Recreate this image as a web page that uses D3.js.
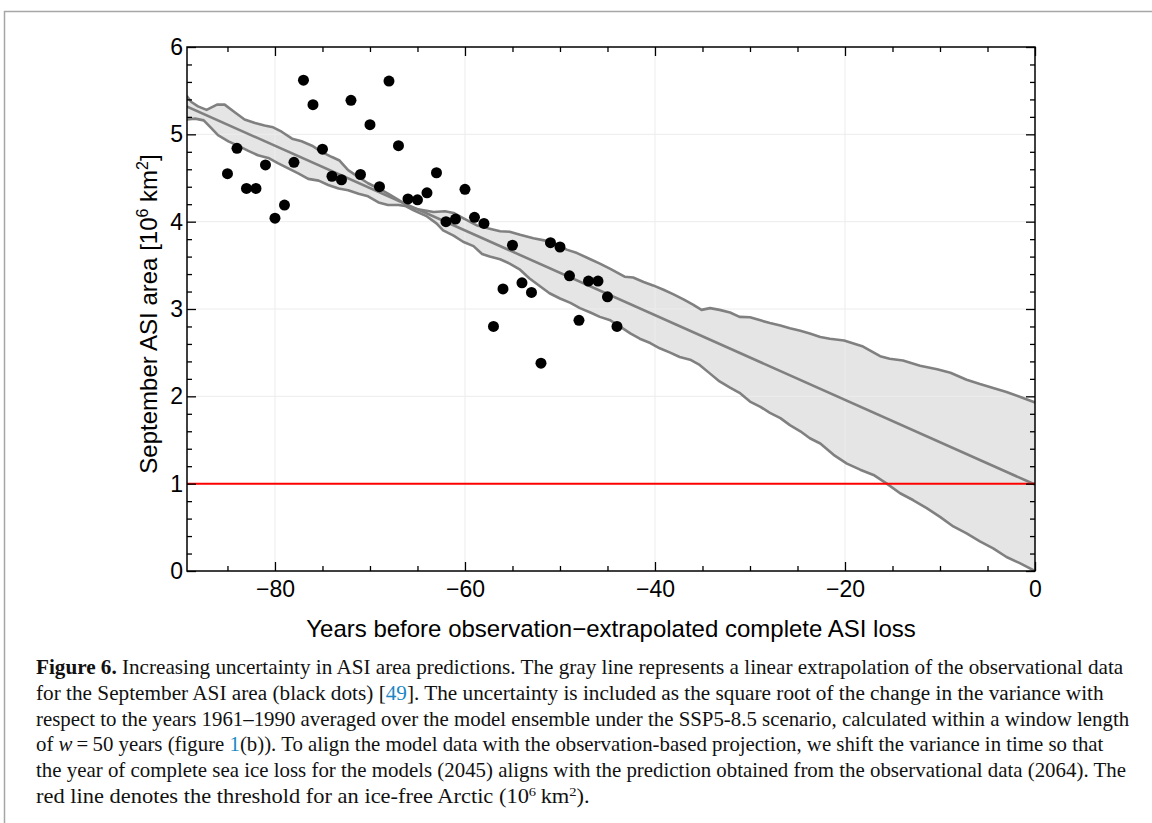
<!DOCTYPE html>
<html>
<head>
<meta charset="utf-8">
<script src="https://cdn.jsdelivr.net/npm/d3@7"></script>
<style>
  body { margin: 0; background: #fff; }
  svg { display: block; }
  .tick text { font-family: "Liberation Sans", Arial, sans-serif; font-size: 23px; fill: #000; }
</style>
</head>
<body>
<svg id="chart" width="1152" height="823"></svg>
<script>
// observations: years before extrapolated loss, September ASI area (10^6 km^2)
const obsYears = [-85, -84, -83, -82, -81, -80, -79, -78, -77, -76, -75, -74, -73, -72,
  -71, -70, -69, -68, -67, -66, -65, -64, -63, -62, -61, -60, -59, -58,
  -57, -56, -55, -54, -53, -52, -51, -50, -49, -48, -47, -46, -45, -44];
const obsArea = [4.55, 4.84, 4.38, 4.38, 4.65, 4.04, 4.19, 4.68, 5.62, 5.34, 4.83, 4.52, 4.48, 5.39,
  4.54, 5.11, 4.40, 5.61, 4.87, 4.26, 4.25, 4.33, 4.56, 4.00, 4.03, 4.37, 4.05, 3.98,
  2.80, 3.23, 3.73, 3.30, 3.19, 2.38, 3.76, 3.71, 3.38, 2.87, 3.32, 3.32, 3.14, 2.80];

// linear extrapolation (end points)
const fitLine = [[-89.3, 5.32], [0, 0.99]];

// uncertainty band edges [years, area]
const bandUpper = [[-89.3, 5.44], [-88.8, 5.37], [-88.1, 5.32], [-87.2, 5.28], [-86.1, 5.34], [-85.3, 5.34],
  [-84.2, 5.25], [-83.2, 5.17], [-82.1, 5.13], [-81.1, 5.10], [-80.2, 5.08], [-79.3, 5.03], [-78.2, 4.95],
  [-77.2, 4.92], [-76.1, 4.87], [-75.1, 4.80], [-74.0, 4.74], [-73.2, 4.70], [-72.3, 4.59], [-71.2, 4.51],
  [-70.2, 4.44], [-69.1, 4.38], [-68.1, 4.32], [-67.0, 4.25], [-66.3, 4.20], [-65.4, 4.15], [-63.3, 4.11],
  [-62.1, 4.12], [-61.2, 4.10], [-60.2, 4.04], [-58.8, 3.96], [-57.4, 3.92], [-56.3, 3.89], [-55.3, 3.885],
  [-54.2, 3.85], [-52.8, 3.81], [-51.4, 3.78], [-50.3, 3.74], [-49.3, 3.68], [-48.2, 3.64], [-46.8, 3.57],
  [-45.8, 3.52], [-44.7, 3.46], [-43.2, 3.37], [-42.3, 3.36], [-41.2, 3.31], [-40.2, 3.27], [-39.1, 3.22],
  [-38.1, 3.17], [-37.0, 3.11], [-36.0, 3.05], [-35.1, 2.99], [-34.2, 3.01], [-33.2, 2.99], [-32.1, 2.96],
  [-31.1, 2.91], [-30.0, 2.905], [-28.9, 2.87], [-27.9, 2.84], [-26.8, 2.81], [-25.8, 2.78], [-24.7, 2.75],
  [-23.7, 2.72], [-22.6, 2.68], [-21.6, 2.66], [-20.1, 2.64], [-18.1, 2.57], [-16.3, 2.46], [-15.3, 2.43],
  [-13.9, 2.41], [-12.1, 2.35], [-10.3, 2.31], [-8.9, 2.27], [-7.2, 2.19], [-5.8, 2.14], [-3.0, 2.05], [0, 1.93]];
const bandLower = [[-89.3, 5.17], [-88.4, 5.18], [-87.5, 5.16], [-86.7, 5.07], [-86.0, 4.99], [-84.9, 4.92],
  [-83.9, 4.87], [-82.8, 4.81], [-81.8, 4.76], [-80.7, 4.73], [-79.7, 4.67], [-78.6, 4.61], [-77.5, 4.55],
  [-76.5, 4.49], [-75.4, 4.47], [-74.4, 4.42], [-73.3, 4.38], [-72.3, 4.36], [-71.2, 4.32], [-70.2, 4.29],
  [-69.1, 4.22], [-68.1, 4.19], [-67.0, 4.19], [-66.3, 4.18], [-65.4, 4.13], [-64.0, 4.06], [-63.0, 3.98],
  [-62.3, 3.90], [-61.2, 3.84], [-60.2, 3.77], [-59.1, 3.72], [-58.2, 3.63], [-57.4, 3.60], [-56.3, 3.57],
  [-55.3, 3.52], [-54.2, 3.45], [-53.2, 3.35], [-52.1, 3.26], [-51.1, 3.18], [-50.0, 3.12], [-48.9, 3.07],
  [-47.9, 3.01], [-46.8, 2.96], [-45.8, 2.91], [-44.7, 2.87], [-43.7, 2.80], [-42.6, 2.72], [-41.6, 2.66],
  [-40.5, 2.61], [-39.5, 2.55], [-38.4, 2.50], [-37.4, 2.45], [-36.3, 2.42], [-35.3, 2.36], [-34.2, 2.26],
  [-33.2, 2.17], [-32.1, 2.10], [-31.1, 2.04], [-30.0, 1.94], [-28.9, 1.88], [-27.9, 1.81], [-26.8, 1.75],
  [-25.8, 1.67], [-24.7, 1.60], [-23.7, 1.52], [-22.6, 1.46], [-21.2, 1.33], [-19.8, 1.23], [-18.4, 1.16],
  [-17.0, 1.10], [-15.6, 1.00], [-14.2, 0.89], [-12.8, 0.81], [-11.4, 0.72], [-10.0, 0.62], [-8.6, 0.51],
  [-7.2, 0.43], [-5.8, 0.34], [-4.4, 0.26], [-3.0, 0.16], [-1.6, 0.09], [0, 0.00]];

const iceFreeThreshold = 1;

const xTicks = [-80, -60, -40, -20, 0];
const xMinorTicks = [-85, -75, -70, -65, -55, -50, -45, -35, -30, -25, -15, -10, -5];
const yTicks = [0, 1, 2, 3, 4, 5, 6];
const yMinorTicks = [0.2, 0.4, 0.6, 0.8, 1.2, 1.4, 1.6, 1.8, 2.2, 2.4, 2.6, 2.8, 3.2, 3.4, 3.6, 3.8,
  4.2, 4.4, 4.6, 4.8, 5.2, 5.4, 5.6, 5.8];

const svg = d3.select("#chart");
const pLeft = 187, pRight = 1035, pTop = 47, pBottom = 571;

const x = d3.scaleLinear().domain([-89.26, 0]).range([pLeft, pRight]);
const y = d3.scaleLinear().domain([0, 6]).range([pBottom, pTop]);

// page frame
svg.append("path")
   .attr("d", "M4.5,823 V11.5 H1152")
   .attr("fill", "none")
   .attr("stroke", "#a6a6a6")
   .attr("stroke-width", 1.5);

svg.append("clipPath").attr("id", "plotclip")
   .append("rect").attr("x", pLeft).attr("y", pTop).attr("width", pRight - pLeft).attr("height", pBottom - pTop);

const plot = svg.append("g").attr("clip-path", "url(#plotclip)");

const line = d3.line().x(d => x(d[0])).y(d => y(d[1]));

// band fill
const bandArea = bandUpper.concat(bandLower.slice().reverse());
plot.append("path")
    .attr("d", line(bandArea) + "Z")
    .attr("fill", "#e5e5e5");

// grid
plot.append("g").selectAll("line").data(xTicks.filter(v => v !== 0)).join("line")
    .attr("x1", d => x(d)).attr("x2", d => x(d)).attr("y1", pTop).attr("y2", pBottom)
    .attr("stroke", "#ececec").attr("stroke-width", 1);
plot.append("g").selectAll("line").data(yTicks.filter(v => v !== 0 && v !== 6)).join("line")
    .attr("y1", d => y(d)).attr("y2", d => y(d)).attr("x1", pLeft).attr("x2", pRight)
    .attr("stroke", "#ececec").attr("stroke-width", 1);

[bandUpper, bandLower, fitLine].forEach(pts => {
  plot.append("path")
      .attr("d", line(pts))
      .attr("fill", "none")
      .attr("stroke", "#808080")
      .attr("stroke-width", 2.6)
      .attr("stroke-linejoin", "round");
});

// ice-free threshold
plot.append("line")
    .attr("x1", pLeft).attr("x2", pRight)
    .attr("y1", y(iceFreeThreshold)).attr("y2", y(iceFreeThreshold))
    .attr("stroke", "#ff0000").attr("stroke-width", 2);

// observations
plot.append("g").selectAll("circle").data(obsYears).join("circle")
    .attr("cx", d => x(d))
    .attr("cy", (d, i) => y(obsArea[i]))
    .attr("r", 5.5)
    .attr("fill", "#000");

// axes (inward ticks on all four sides)
function styleAxis(g) {
  g.select(".domain").remove();
  g.selectAll(".tick line").attr("stroke", "#000").attr("stroke-width", 1.3);
}
svg.append("g").attr("transform", `translate(0,${pBottom})`)
   .call(d3.axisBottom(x).tickValues(xTicks).tickSize(-9).tickPadding(10).tickFormat(d3.format("d")))
   .call(styleAxis);
svg.append("g").attr("transform", `translate(0,${pBottom})`)
   .call(d3.axisBottom(x).tickValues(xMinorTicks).tickSize(-5).tickFormat(""))
   .call(styleAxis);
svg.append("g").attr("transform", `translate(0,${pTop})`)
   .call(d3.axisTop(x).tickValues(xTicks).tickSize(-9).tickFormat(""))
   .call(styleAxis);
svg.append("g").attr("transform", `translate(0,${pTop})`)
   .call(d3.axisTop(x).tickValues(xMinorTicks).tickSize(-5).tickFormat(""))
   .call(styleAxis);
svg.append("g").attr("transform", `translate(${pLeft},0)`)
   .call(d3.axisLeft(y).tickValues(yTicks).tickSize(-9).tickPadding(4).tickFormat(d3.format("d")))
   .call(styleAxis);
svg.append("g").attr("transform", `translate(${pLeft},0)`)
   .call(d3.axisLeft(y).tickValues(yMinorTicks).tickSize(-5).tickFormat(""))
   .call(styleAxis);
svg.append("g").attr("transform", `translate(${pRight},0)`)
   .call(d3.axisRight(y).tickValues(yTicks).tickSize(-9).tickFormat(""))
   .call(styleAxis);
svg.append("g").attr("transform", `translate(${pRight},0)`)
   .call(d3.axisRight(y).tickValues(yMinorTicks).tickSize(-5).tickFormat(""))
   .call(styleAxis);

svg.append("rect")
   .attr("x", pLeft).attr("y", pTop).attr("width", pRight - pLeft).attr("height", pBottom - pTop)
   .attr("fill", "none").attr("stroke", "#000").attr("stroke-width", 1.5);

// axis titles
svg.append("text")
   .attr("x", (pLeft + pRight) / 2).attr("y", 637)
   .attr("text-anchor", "middle")
   .style("font-family", '"Liberation Sans", Arial, sans-serif')
   .style("font-size", "24px")
   .text("Years before observation\u2212extrapolated complete ASI loss");

const yTitle = svg.append("text")
   .attr("transform", "translate(157,314) rotate(-90)")
   .attr("text-anchor", "middle")
   .style("font-family", '"Liberation Sans", Arial, sans-serif')
   .style("font-size", "24px");
yTitle.append("tspan").text("September ASI area [10");
yTitle.append("tspan").attr("dy", -9).style("font-size", "16px").text("6");
yTitle.append("tspan").attr("dy", 9).text(" km");
yTitle.append("tspan").attr("dy", -9).style("font-size", "16px").text("2");
yTitle.append("tspan").attr("dy", 9).text("]");

// caption
const blue = "#1b87c4";
const captionLines = [
  { end: 1124, parts: [{ t: "Figure 6.", b: true }, { t: " Increasing uncertainty in ASI area predictions. The gray line represents a linear extrapolation of the observational data" }] },
  { end: 1104, parts: [{ t: "for the September ASI area (black dots) [" }, { t: "49", c: blue }, { t: "]. The uncertainty is included as the square root of the change in the variance with" }] },
  { end: 1130, parts: [{ t: "respect to the years 1961\u20131990 averaged over the model ensemble under the SSP5-8.5 scenario, calculated within a window length" }] },
  { end: 1104, parts: [{ t: "of " }, { t: "w", i: true }, { t: "\u2009=\u200950 years (figure " }, { t: "1", c: blue }, { t: "(b)). To align the model data with the observation-based projection, we shift the variance in time so that" }] },
  { end: 1127, parts: [{ t: "the year of complete sea ice loss for the models (2045) aligns with the prediction obtained from the observational data (2064). The" }] },
  { end: 590, parts: [{ t: "red line denotes the threshold for an ice-free Arctic (10" }, { t: "6", sup: true }, { t: "\u2009km" }, { t: "2", sup: true }, { t: ")." }] }
];

captionLines.forEach((ln, i) => {
  const baseY = 674 + i * 25.8;
  const txt = svg.append("text")
     .attr("x", 0).attr("y", 0)
     .style("font-family", '"Liberation Serif", "Times New Roman", serif')
     .style("font-size", "20px")
     .attr("fill", "#111");
  let prevSup = false;
  ln.parts.forEach(p => {
    const ts = txt.append("tspan").text(p.t);
    if (p.b) ts.style("font-weight", "bold");
    if (p.i) ts.style("font-style", "italic");
    if (p.c) ts.attr("fill", p.c);
    if (p.sup) ts.attr("dy", prevSup ? 0 : -7).style("font-size", "13px");
    else if (prevSup) ts.attr("dy", 7);
    prevSup = !!p.sup;
  });
  const w = txt.node().getComputedTextLength();
  const sx = (ln.end - 36) / w;
  txt.attr("transform", `translate(36,${baseY}) scale(${sx},1)`);
});
</script>
</body>
</html>
